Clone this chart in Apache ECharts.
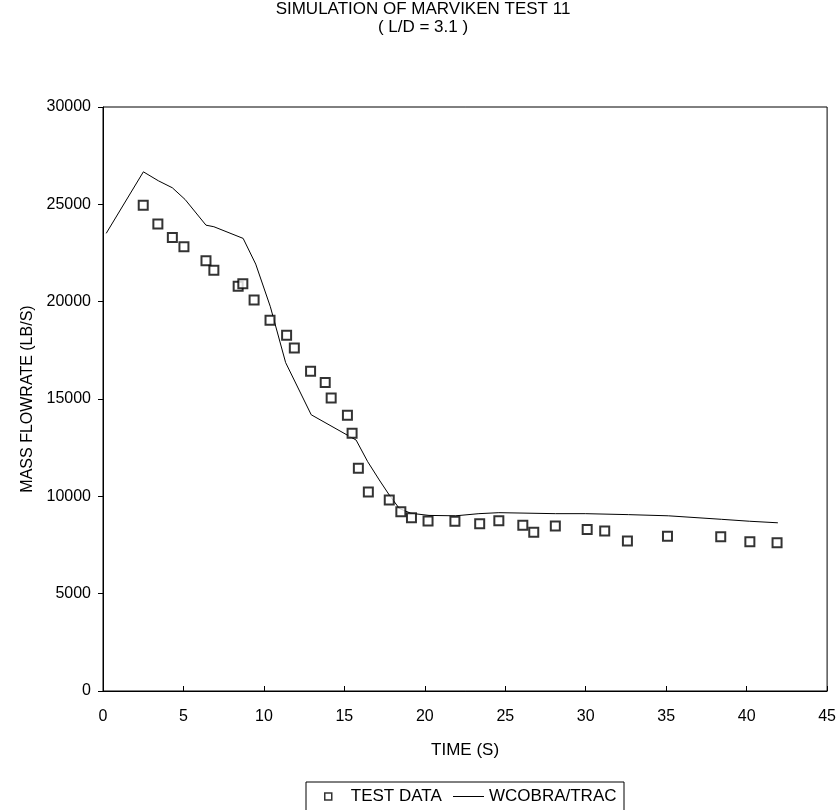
<!DOCTYPE html>
<html style="height: 100%;">
<head>
<meta charset="utf-8">
<title>Marviken test 11</title>
<script src="https://cdn.jsdelivr.net/npm/echarts@6/dist/echarts.min.js"></script>
<style>
    html, body { margin: 0; background: #fff; }
</style>
</head>
<body style="height: 100%; margin: 0">
<div id="container" style="width: 839px; height: 810px;"></div>
<script>
// test data (squares)
var testTime = [2.50, 3.41, 4.31, 5.03, 6.40, 6.89, 8.40, 8.69, 9.39, 10.38, 11.41, 11.89,
    12.90, 13.81, 14.18, 15.19, 15.48, 15.87, 16.49, 17.79, 18.51, 19.17, 20.20, 21.87,
    23.41, 24.60, 26.09, 26.77, 28.11, 30.09, 31.18, 32.59, 35.08, 38.39, 40.20, 41.89];
var testFlow = [24950, 23990, 23300, 22820, 22100, 21610, 20790, 20920, 20080, 19040, 18280, 17620,
    16420, 15850, 15050, 14160, 13240, 11440, 10220, 9810, 9210, 8900, 8730, 8720,
    8590, 8750, 8510, 8150, 8480, 8290, 8220, 7700, 7950, 7930, 7670, 7620];

// WCOBRA/TRAC calculation (line)
var calcTime = [0.2, 2.51, 3.44, 4.31, 5.10, 6.40, 6.89, 8.71, 9.49, 10.40, 11.35, 12.94,
    15.73, 16.45, 17.17, 17.79, 18.41, 19.13, 20.26, 21.92, 23.36, 24.60, 26.04, 28.11,
    29.97, 32.65, 35.13, 38.43, 40.19, 41.94];
var calcFlow = [23510, 26670, 26210, 25850, 25250, 23930, 23850, 23250, 21930, 19740, 16870, 14190,
    12890, 11780, 10840, 10070, 9380, 9130, 9020, 9000, 9110, 9160, 9140, 9110,
    9110, 9060, 9000, 8820, 8720, 8640];

var seriesNames = ['TEST DATA', 'WCOBRA/TRAC'];
var titleLines = ['SIMULATION OF MARVIKEN TEST 11', '( L/D = 3.1 )'];
var xName = 'TIME (S)';
var yName = 'MASS FLOWRATE (LB/S)';

function pairs(xs, ys) {
    var out = [];
    for (var i = 0; i < xs.length; i++) out.push([xs[i], ys[i]]);
    return out;
}

var font = "'Liberation Sans', Arial, sans-serif";
var myChart = echarts.init(document.getElementById('container'));

var option = {
    backgroundColor: '#fff',
    animation: false,
    textStyle: { fontFamily: font, color: '#000' },
    title: {
        text: titleLines.join('\n'),
        left: 423,
        top: 0,
        padding: 0,
        textAlign: 'center',
        textStyle: { fontFamily: font, fontSize: 17, fontWeight: 'normal', color: '#000', lineHeight: 18 }
    },
    grid: { left: 103, right: 10, top: 107, bottom: 119, show: true, borderColor: '#000', borderWidth: 1 },
    xAxis: {
        type: 'value', min: 0, max: 45, interval: 5,
        name: xName, nameLocation: 'middle', nameGap: 51,
        nameTextStyle: { fontFamily: font, fontSize: 17, color: '#000' },
        axisLine: { show: true, onZero: false, lineStyle: { color: '#000', width: 1 } },
        axisTick: { show: true, inside: true, length: 5, lineStyle: { color: '#000' } },
        axisLabel: { fontFamily: font, fontSize: 16, color: '#000', margin: 18 },
        splitLine: { show: false }
    },
    yAxis: {
        type: 'value', min: 0, max: 30000, interval: 5000,
        name: yName, nameLocation: 'middle', nameGap: 60, nameRotate: 90,
        nameTextStyle: { fontFamily: font, fontSize: 16, color: '#000' },
        axisLine: { show: true, lineStyle: { color: '#000', width: 1 } },
        axisTick: { show: true, inside: false, length: 5, lineStyle: { color: '#000' } },
        axisLabel: { fontFamily: font, fontSize: 16, color: '#000', margin: 12,
                     formatter: function (v) { return String(v); } },
        splitLine: { show: false }
    },
    legend: [{
        data: [{ name: seriesNames[0], icon: 'rect',
                 itemStyle: { color: '#fff', borderColor: '#000', borderWidth: 1.5 } }],
        left: 324, top: 788, padding: 0,
        itemWidth: 7, itemHeight: 7,
        textStyle: { fontFamily: font, fontSize: 17, color: '#000', padding: [0, 0, 0, 14] }
    }, {
        data: [{ name: seriesNames[1], icon: 'rect',
                 itemStyle: { color: '#000', borderWidth: 0 } }],
        left: 453, top: 788, padding: 0,
        itemWidth: 31, itemHeight: 1,
        textStyle: { fontFamily: font, fontSize: 17, color: '#000' }
    }],
    graphic: [{
        type: 'rect',
        shape: { x: 306, y: 782, width: 318, height: 40 },
        style: { fill: 'none', stroke: '#000', lineWidth: 1 },
        silent: true
    }],
    series: [{
        name: seriesNames[0],
        type: 'scatter',
        symbol: 'rect',
        symbolSize: 9,
        itemStyle: { color: '#fff', borderColor: '#000', borderWidth: 2 },
        data: pairs(testTime, testFlow),
        z: 3
    }, {
        name: seriesNames[1],
        type: 'line',
        color: '#000',
        showSymbol: false,
        symbol: 'none',
        lineStyle: { color: '#000', width: 1 },
        data: pairs(calcTime, calcFlow),
        z: 2
    }]
};

myChart.setOption(option);
</script>
</body>
</html>
